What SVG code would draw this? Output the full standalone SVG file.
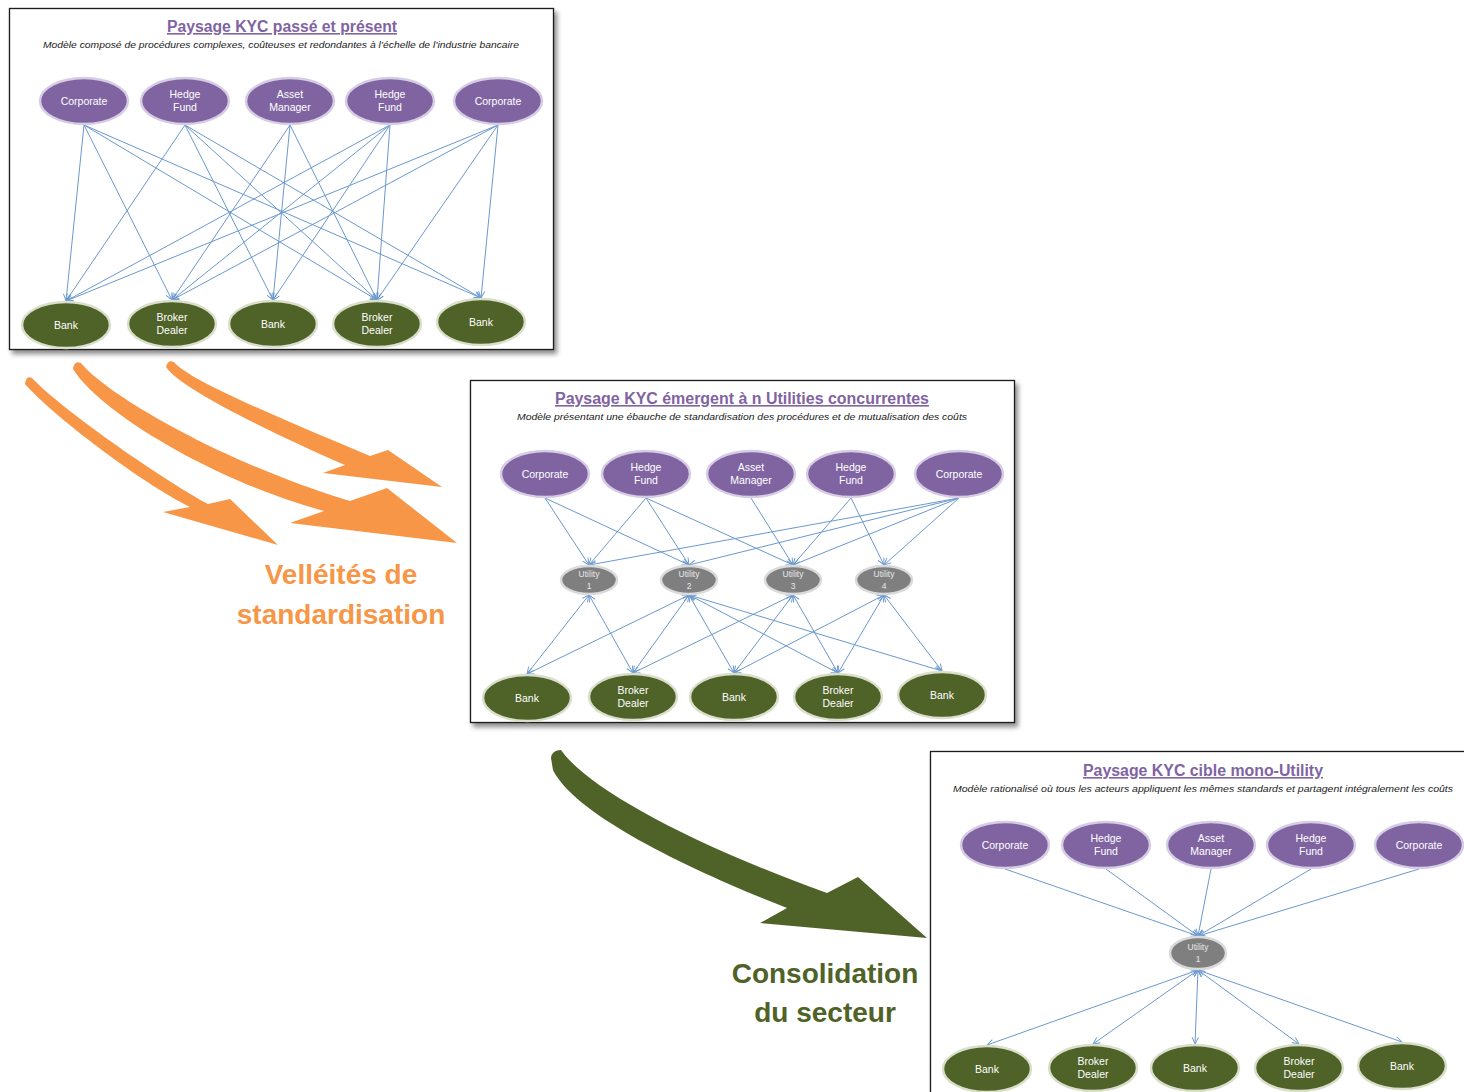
<svg xmlns="http://www.w3.org/2000/svg" width="1464" height="1092" viewBox="0 0 1464 1092">
<defs>
<filter id="sh" x="-5%" y="-5%" width="115%" height="115%">
<feDropShadow dx="3" dy="4" stdDeviation="2.5" flood-color="#000" flood-opacity="0.45"/>
</filter>
<marker id="ah" viewBox="0 0 10 10" refX="9.5" refY="5" markerWidth="8" markerHeight="8" markerUnits="userSpaceOnUse" orient="auto-start-reverse">
<path d="M1,1 L9.5,5 L1,9" fill="none" stroke="#6a98cf" stroke-width="1.2"/>
</marker>
</defs>
<style>
.frame{fill:#fff;stroke:#1a1a1a;stroke-width:1.3;filter:url(#sh)}
.title{font-family:"Liberation Sans",Arial,sans-serif;font-size:16px;font-weight:bold;fill:#8064A2;text-anchor:middle;text-decoration:underline}
.sub{font-family:"Liberation Sans",Arial,sans-serif;font-size:9.5px;font-style:italic;fill:#1a1a1a;text-anchor:middle}
.pu{fill:#8064A2;stroke:#d6cce4;stroke-width:2.5}
.gr{fill:#4F6228;stroke:#dadfcc;stroke-width:2.5}
.ut{fill:#7f7f7f;stroke:#dadada;stroke-width:2.5}
.lbl{font-family:"Liberation Sans",Arial,sans-serif;font-size:10.5px;fill:#fff;text-anchor:middle}
.ulbl{font-family:"Liberation Sans",Arial,sans-serif;font-size:8.5px;fill:#e8e8e8;text-anchor:middle}
.cn line{stroke:#6a98cf;stroke-width:1;fill:none;marker-end:url(#ah)}
.cn line.bi{marker-start:url(#ah)}
.big{font-family:"Liberation Sans",Arial,sans-serif;font-size:28px;font-weight:bold;text-anchor:middle}
</style>

<!-- panel frames -->
<g id="panel1">
<rect class="frame" x="9.5" y="8.5" width="544" height="341"/>
<text class="title" x="282" y="32" textLength="230" lengthAdjust="spacingAndGlyphs">Paysage KYC passé et présent</text>
<text class="sub" x="281" y="48" textLength="476" lengthAdjust="spacingAndGlyphs">Modèle composé de procédures complexes, coûteuses et redondantes à l’échelle de l’industrie bancaire</text>
</g>
<g id="panel2" transform="translate(461,373)">
<rect class="frame" x="9.5" y="7.5" width="544" height="342"/>
<text class="title" x="281" y="31" textLength="374" lengthAdjust="spacingAndGlyphs">Paysage KYC émergent à n Utilities concurrentes</text>
<text class="sub" x="281" y="47" textLength="450" lengthAdjust="spacingAndGlyphs">Modèle présentant une ébauche de standardisation des procédures et de mutualisation des coûts</text>
</g>
<g id="panel3" transform="translate(921,744)">
<rect class="frame" x="9.5" y="7.5" width="560" height="360"/>
<text class="title" x="282" y="32" textLength="240" lengthAdjust="spacingAndGlyphs">Paysage KYC cible mono-Utility</text>
<text class="sub" x="282" y="48" textLength="500" lengthAdjust="spacingAndGlyphs">Modèle rationalisé où tous les acteurs appliquent les mêmes standards et partagent intégralement les coûts</text>
</g>

<!-- connectors -->
<g id="connectors" class="cn">
<g id="conn-p1">
<line x1="84" y1="125" x2="66" y2="301"/>
<line x1="84" y1="125" x2="172" y2="300"/>
<line x1="84" y1="125" x2="377" y2="300"/>
<line x1="84" y1="125" x2="481" y2="298"/>
<line x1="185" y1="125" x2="66" y2="301"/>
<line x1="185" y1="125" x2="273" y2="300"/>
<line x1="185" y1="125" x2="377" y2="300"/>
<line x1="185" y1="125" x2="481" y2="298"/>
<line x1="290" y1="125" x2="172" y2="300"/>
<line x1="290" y1="125" x2="273" y2="300"/>
<line x1="290" y1="125" x2="377" y2="300"/>
<line x1="390" y1="125" x2="66" y2="301"/>
<line x1="390" y1="125" x2="172" y2="300"/>
<line x1="390" y1="125" x2="273" y2="300"/>
<line x1="390" y1="125" x2="377" y2="300"/>
<line x1="498" y1="125" x2="66" y2="301"/>
<line x1="498" y1="125" x2="172" y2="300"/>
<line x1="498" y1="125" x2="377" y2="300"/>
<line x1="498" y1="125" x2="481" y2="298"/>
</g>
<g id="conn-p2" transform="translate(461,373)">
<line x1="84" y1="125" x2="128" y2="192"/>
<line x1="84" y1="125" x2="228" y2="192"/>
<line x1="185" y1="125" x2="128" y2="192"/>
<line x1="185" y1="125" x2="228" y2="192"/>
<line x1="185" y1="125" x2="332" y2="192"/>
<line x1="290" y1="125" x2="332" y2="192"/>
<line x1="390" y1="125" x2="332" y2="192"/>
<line x1="390" y1="125" x2="423" y2="192"/>
<line x1="498" y1="125" x2="128" y2="192"/>
<line x1="498" y1="125" x2="228" y2="192"/>
<line x1="498" y1="125" x2="332" y2="192"/>
<line x1="498" y1="125" x2="423" y2="192"/>
<line class="bi" x1="128" y1="222" x2="66" y2="301"/>
<line class="bi" x1="128" y1="222" x2="172" y2="300"/>
<line class="bi" x1="228" y1="222" x2="66" y2="301"/>
<line class="bi" x1="228" y1="222" x2="172" y2="300"/>
<line class="bi" x1="228" y1="222" x2="273" y2="300"/>
<line class="bi" x1="228" y1="222" x2="377" y2="300"/>
<line class="bi" x1="228" y1="222" x2="481" y2="298"/>
<line class="bi" x1="332" y1="222" x2="172" y2="300"/>
<line class="bi" x1="332" y1="222" x2="273" y2="300"/>
<line class="bi" x1="332" y1="222" x2="377" y2="300"/>
<line class="bi" x1="423" y1="222" x2="273" y2="300"/>
<line class="bi" x1="423" y1="222" x2="377" y2="300"/>
<line class="bi" x1="423" y1="222" x2="481" y2="298"/>
</g>
<g id="conn-p3" transform="translate(921,744)">
<line x1="84" y1="125" x2="277" y2="192"/>
<line x1="185" y1="125" x2="277" y2="192"/>
<line x1="290" y1="125" x2="277" y2="192"/>
<line x1="390" y1="125" x2="277" y2="192"/>
<line x1="498" y1="125" x2="277" y2="192"/>
<line class="bi" x1="277" y1="226" x2="66" y2="301"/>
<line class="bi" x1="277" y1="226" x2="172" y2="300"/>
<line class="bi" x1="277" y1="226" x2="274" y2="300"/>
<line class="bi" x1="277" y1="226" x2="378" y2="300"/>
<line class="bi" x1="277" y1="226" x2="481" y2="298"/>
</g>
</g>

<!-- nodes panel 1 -->
<g id="nodes-p1">
<g id="p1-corporate-1"><ellipse class="pu" cx="84" cy="101" rx="44" ry="23"/><text class="lbl" x="84" y="105">Corporate</text></g>
<g id="p1-hedgefund-1"><ellipse class="pu" cx="185" cy="101" rx="44" ry="23"/><text class="lbl" x="185" y="98">Hedge</text><text class="lbl" x="185" y="111">Fund</text></g>
<g id="p1-assetmanager"><ellipse class="pu" cx="290" cy="101" rx="44" ry="23"/><text class="lbl" x="290" y="98">Asset</text><text class="lbl" x="290" y="111">Manager</text></g>
<g id="p1-hedgefund-2"><ellipse class="pu" cx="390" cy="101" rx="44" ry="23"/><text class="lbl" x="390" y="98">Hedge</text><text class="lbl" x="390" y="111">Fund</text></g>
<g id="p1-corporate-2"><ellipse class="pu" cx="498" cy="101" rx="44" ry="23"/><text class="lbl" x="498" y="105">Corporate</text></g>
<g id="p1-bank-1"><ellipse class="gr" cx="66" cy="325" rx="44" ry="23"/><text class="lbl" x="66" y="329">Bank</text></g>
<g id="p1-broker-1"><ellipse class="gr" cx="172" cy="324" rx="44" ry="23"/><text class="lbl" x="172" y="321">Broker</text><text class="lbl" x="172" y="334">Dealer</text></g>
<g id="p1-bank-2"><ellipse class="gr" cx="273" cy="324" rx="44" ry="23"/><text class="lbl" x="273" y="328">Bank</text></g>
<g id="p1-broker-2"><ellipse class="gr" cx="377" cy="324" rx="44" ry="23"/><text class="lbl" x="377" y="321">Broker</text><text class="lbl" x="377" y="334">Dealer</text></g>
<g id="p1-bank-3"><ellipse class="gr" cx="481" cy="322" rx="44" ry="23"/><text class="lbl" x="481" y="326">Bank</text></g>
</g>

<!-- nodes panel 2 -->
<g id="nodes-p2" transform="translate(461,373)">
<g id="p2-corporate-1"><ellipse class="pu" cx="84" cy="101" rx="44" ry="23"/><text class="lbl" x="84" y="105">Corporate</text></g>
<g id="p2-hedgefund-1"><ellipse class="pu" cx="185" cy="101" rx="44" ry="23"/><text class="lbl" x="185" y="98">Hedge</text><text class="lbl" x="185" y="111">Fund</text></g>
<g id="p2-assetmanager"><ellipse class="pu" cx="290" cy="101" rx="44" ry="23"/><text class="lbl" x="290" y="98">Asset</text><text class="lbl" x="290" y="111">Manager</text></g>
<g id="p2-hedgefund-2"><ellipse class="pu" cx="390" cy="101" rx="44" ry="23"/><text class="lbl" x="390" y="98">Hedge</text><text class="lbl" x="390" y="111">Fund</text></g>
<g id="p2-corporate-2"><ellipse class="pu" cx="498" cy="101" rx="44" ry="23"/><text class="lbl" x="498" y="105">Corporate</text></g>
<g id="p2-utility-1"><ellipse class="ut" cx="128" cy="207" rx="28" ry="14"/><text class="ulbl" x="128" y="204">Utility</text><text class="ulbl" x="128" y="216">1</text></g>
<g id="p2-utility-2"><ellipse class="ut" cx="228" cy="207" rx="28" ry="14"/><text class="ulbl" x="228" y="204">Utility</text><text class="ulbl" x="228" y="216">2</text></g>
<g id="p2-utility-3"><ellipse class="ut" cx="332" cy="207" rx="28" ry="14"/><text class="ulbl" x="332" y="204">Utility</text><text class="ulbl" x="332" y="216">3</text></g>
<g id="p2-utility-4"><ellipse class="ut" cx="423" cy="207" rx="28" ry="14"/><text class="ulbl" x="423" y="204">Utility</text><text class="ulbl" x="423" y="216">4</text></g>
<g id="p2-bank-1"><ellipse class="gr" cx="66" cy="325" rx="44" ry="23"/><text class="lbl" x="66" y="329">Bank</text></g>
<g id="p2-broker-1"><ellipse class="gr" cx="172" cy="324" rx="44" ry="23"/><text class="lbl" x="172" y="321">Broker</text><text class="lbl" x="172" y="334">Dealer</text></g>
<g id="p2-bank-2"><ellipse class="gr" cx="273" cy="324" rx="44" ry="23"/><text class="lbl" x="273" y="328">Bank</text></g>
<g id="p2-broker-2"><ellipse class="gr" cx="377" cy="324" rx="44" ry="23"/><text class="lbl" x="377" y="321">Broker</text><text class="lbl" x="377" y="334">Dealer</text></g>
<g id="p2-bank-3"><ellipse class="gr" cx="481" cy="322" rx="44" ry="23"/><text class="lbl" x="481" y="326">Bank</text></g>
</g>

<!-- nodes panel 3 -->
<g id="nodes-p3" transform="translate(921,744)">
<g id="p3-corporate-1"><ellipse class="pu" cx="84" cy="101" rx="44" ry="23"/><text class="lbl" x="84" y="105">Corporate</text></g>
<g id="p3-hedgefund-1"><ellipse class="pu" cx="185" cy="101" rx="44" ry="23"/><text class="lbl" x="185" y="98">Hedge</text><text class="lbl" x="185" y="111">Fund</text></g>
<g id="p3-assetmanager"><ellipse class="pu" cx="290" cy="101" rx="44" ry="23"/><text class="lbl" x="290" y="98">Asset</text><text class="lbl" x="290" y="111">Manager</text></g>
<g id="p3-hedgefund-2"><ellipse class="pu" cx="390" cy="101" rx="44" ry="23"/><text class="lbl" x="390" y="98">Hedge</text><text class="lbl" x="390" y="111">Fund</text></g>
<g id="p3-corporate-2"><ellipse class="pu" cx="498" cy="101" rx="44" ry="23"/><text class="lbl" x="498" y="105">Corporate</text></g>
<g id="p3-utility-1"><ellipse class="ut" cx="277" cy="209" rx="28" ry="16"/><text class="ulbl" x="277" y="206">Utility</text><text class="ulbl" x="277" y="218">1</text></g>
<g id="p3-bank-1"><ellipse class="gr" cx="66" cy="325" rx="44" ry="23"/><text class="lbl" x="66" y="329">Bank</text></g>
<g id="p3-broker-1"><ellipse class="gr" cx="172" cy="324" rx="44" ry="23"/><text class="lbl" x="172" y="321">Broker</text><text class="lbl" x="172" y="334">Dealer</text></g>
<g id="p3-bank-2"><ellipse class="gr" cx="274" cy="324" rx="44" ry="23"/><text class="lbl" x="274" y="328">Bank</text></g>
<g id="p3-broker-2"><ellipse class="gr" cx="378" cy="324" rx="44" ry="23"/><text class="lbl" x="378" y="321">Broker</text><text class="lbl" x="378" y="334">Dealer</text></g>
<g id="p3-bank-3"><ellipse class="gr" cx="481" cy="322" rx="44" ry="23"/><text class="lbl" x="481" y="326">Bank</text></g>
</g>

<!-- big arrows and labels -->
<g id="standardisation-arrows" fill="#F79646">
<path d="M 32,378 C 60,408 160,478 208,504 L 230,499 L 278,545 L 163,512 L 190,507 C 140,482 52,415 25,384 Q 26,375 32,378 Z"/>
<path d="M 81,363 C 110,398 230,465 350,501 L 387,488 L 457,543 L 290,523 L 324,511 C 210,480 98,410 73,369 Q 74,360 81,363 Z"/>
<path d="M 174,362 C 188,380 280,418 370,456 L 388,450 L 442,487 L 323,473 L 345,465 C 265,430 180,388 166,367 Q 168,359 174,362 Z"/>
</g>
<g id="standardisation-label">
<text class="big" x="341" y="584" fill="#F79646">Velléités de</text>
<text class="big" x="341" y="624" fill="#F79646">standardisation</text>
</g>
<g id="consolidation-arrow" fill="#4F6228">
<path d="M 561,750 C 585,785 680,840 827,893 L 858,877 L 927,938 L 760,923 L 787,908 C 690,870 575,815 553,770 L 551,758 Q 552,750 561,750 Z"/>
</g>
<g id="consolidation-label">
<text class="big" x="825" y="983" fill="#4F6228">Consolidation</text>
<text class="big" x="825" y="1022" fill="#4F6228">du secteur</text>
</g>
</svg>
